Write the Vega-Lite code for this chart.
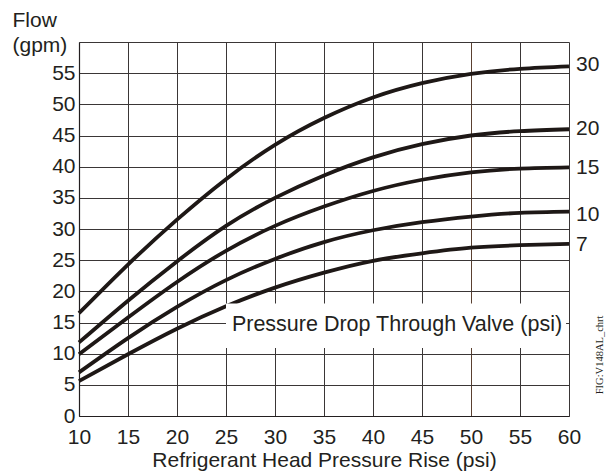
{
  "$schema": "https://vega.github.io/schema/vega-lite/v6.json",
  "width": 490,
  "height": 374,
  "autosize": {"type": "none"},
  "padding": {"left": 79, "top": 42, "right": 40, "bottom": 55},
  "background": "white",
  "config": {
    "view": {"stroke": null},
    "font": "Liberation Sans",
    "axis": {
      "labelFont": "Liberation Sans",
      "titleFont": "Liberation Sans",
      "labelColor": "#231f20",
      "titleColor": "#231f20",
      "labelFontSize": 21,
      "titleFontSize": 21,
      "titleFontWeight": "normal",
      "labelOverlap": false,
      "ticks": false,
      "gridColor": "#3a3636",
      "gridWidth": 1,
      "gridOpacity": 1,
      "domainColor": "#231f20",
      "domainWidth": 1.2
    }
  },
  "datasets": {
    "curves": [
      {"x": 10, "flow": 16.5, "dp": "30"}, {"x": 15, "flow": 24.3, "dp": "30"}, {"x": 20, "flow": 31.5, "dp": "30"}, {"x": 25, "flow": 38.0, "dp": "30"}, {"x": 30, "flow": 43.5, "dp": "30"}, {"x": 35, "flow": 47.8, "dp": "30"}, {"x": 40, "flow": 51.1, "dp": "30"}, {"x": 45, "flow": 53.4, "dp": "30"}, {"x": 50, "flow": 54.9, "dp": "30"}, {"x": 55, "flow": 55.7, "dp": "30"}, {"x": 60, "flow": 56.1, "dp": "30"},
      {"x": 10, "flow": 11.8, "dp": "20"}, {"x": 15, "flow": 18.5, "dp": "20"}, {"x": 20, "flow": 24.8, "dp": "20"}, {"x": 25, "flow": 30.5, "dp": "20"}, {"x": 30, "flow": 35.0, "dp": "20"}, {"x": 35, "flow": 38.6, "dp": "20"}, {"x": 40, "flow": 41.5, "dp": "20"}, {"x": 45, "flow": 43.6, "dp": "20"}, {"x": 50, "flow": 45.0, "dp": "20"}, {"x": 55, "flow": 45.7, "dp": "20"}, {"x": 60, "flow": 46.0, "dp": "20"},
      {"x": 10, "flow": 9.9, "dp": "15"}, {"x": 15, "flow": 15.8, "dp": "15"}, {"x": 20, "flow": 21.5, "dp": "15"}, {"x": 25, "flow": 26.5, "dp": "15"}, {"x": 30, "flow": 30.5, "dp": "15"}, {"x": 35, "flow": 33.6, "dp": "15"}, {"x": 40, "flow": 36.1, "dp": "15"}, {"x": 45, "flow": 37.9, "dp": "15"}, {"x": 50, "flow": 39.1, "dp": "15"}, {"x": 55, "flow": 39.7, "dp": "15"}, {"x": 60, "flow": 39.9, "dp": "15"},
      {"x": 10, "flow": 7.0, "dp": "10"}, {"x": 15, "flow": 12.5, "dp": "10"}, {"x": 20, "flow": 17.5, "dp": "10"}, {"x": 25, "flow": 21.8, "dp": "10"}, {"x": 30, "flow": 25.2, "dp": "10"}, {"x": 35, "flow": 27.9, "dp": "10"}, {"x": 40, "flow": 29.8, "dp": "10"}, {"x": 45, "flow": 31.1, "dp": "10"}, {"x": 50, "flow": 32.0, "dp": "10"}, {"x": 55, "flow": 32.6, "dp": "10"}, {"x": 60, "flow": 32.8, "dp": "10"},
      {"x": 10, "flow": 5.6, "dp": "7"}, {"x": 15, "flow": 9.9, "dp": "7"}, {"x": 20, "flow": 14.0, "dp": "7"}, {"x": 25, "flow": 17.6, "dp": "7"}, {"x": 30, "flow": 20.6, "dp": "7"}, {"x": 35, "flow": 23.0, "dp": "7"}, {"x": 40, "flow": 24.9, "dp": "7"}, {"x": 45, "flow": 26.1, "dp": "7"}, {"x": 50, "flow": 27.0, "dp": "7"}, {"x": 55, "flow": 27.4, "dp": "7"}, {"x": 60, "flow": 27.6, "dp": "7"}
    ],
    "labels": [
      {"x": 60, "flow": 56.3, "dp": "30"},
      {"x": 60, "flow": 46.0, "dp": "20"},
      {"x": 60, "flow": 39.8, "dp": "15"},
      {"x": 60, "flow": 32.3, "dp": "10"},
      {"x": 60, "flow": 27.4, "dp": "7"}
    ]
  },
  "encoding": {
    "x": {
      "field": "x", "type": "quantitative",
      "scale": {"domain": [10, 60], "nice": false, "zero": false},
      "axis": {
        "values": [10, 15, 20, 25, 30, 35, 40, 45, 50, 55, 60],
        "grid": true,
        "gridColor": {"condition": {"test": "datum.value === 50", "value": "#5a4030"}, "value": "#3a3636"},
        "labelPadding": 10,
        "labelFlush": false,
        "title": "Refrigerant Head Pressure Rise (psi)",
        "titleBaseline": "top",
        "titleY": 33
      }
    },
    "y": {
      "field": "flow", "type": "quantitative",
      "scale": {"domain": [0, 60], "nice": false, "zero": true},
      "axis": {
        "values": [0, 5, 10, 15, 20, 25, 30, 35, 40, 45, 50, 55, 60],
        "labelExpr": "datum.value === 60 ? '' : datum.label",
        "grid": true,
        "labelPadding": 4,
        "labelFlush": false,
        "title": ["Flow", "(gpm)"],
        "titleAngle": 0,
        "titleAlign": "left",
        "titleBaseline": "top",
        "titleX": -67,
        "titleY": -33,
        "titleLineHeight": 25
      }
    }
  },
  "layer": [
    {
      "data": {"name": "curves"},
      "mark": {"type": "line", "interpolate": "natural", "strokeWidth": 3.8, "color": "#1e1816", "strokeCap": "butt"},
      "encoding": {
        "detail": {"field": "dp"}
      }
    },
    {
      "data": {"values": [{"x": 25, "x2": 59.7, "flow": 10.9, "flow2": 18.05}]},
      "mark": {"type": "rect", "fill": "white", "stroke": null},
      "encoding": {
        "x2": {"field": "x2"},
        "y2": {"field": "flow2"}
      }
    },
    {
      "data": {"values": [{"x": 25.6, "flow": 14.6, "t": "Pressure Drop Through Valve (psi)"}]},
      "mark": {"type": "text", "align": "left", "baseline": "middle", "fontSize": 21.5, "font": "Liberation Sans", "color": "#231f20"},
      "encoding": {
        "text": {"field": "t"}
      }
    },
    {
      "data": {"name": "labels"},
      "mark": {"type": "text", "align": "left", "baseline": "middle", "dx": 7, "fontSize": 21, "font": "Liberation Sans", "color": "#231f20"},
      "encoding": {
        "text": {"field": "dp"}
      }
    },
    {
      "data": {"values": [{"x": 60, "flow": 9.8, "t": "FIG:V148AL_chrt"}]},
      "mark": {"type": "text", "angle": 270, "align": "center", "baseline": "middle", "dy": 31, "fontSize": 10.5, "font": "Liberation Serif", "color": "#231f20"},
      "encoding": {
        "text": {"field": "t"}
      }
    }
  ]
}
